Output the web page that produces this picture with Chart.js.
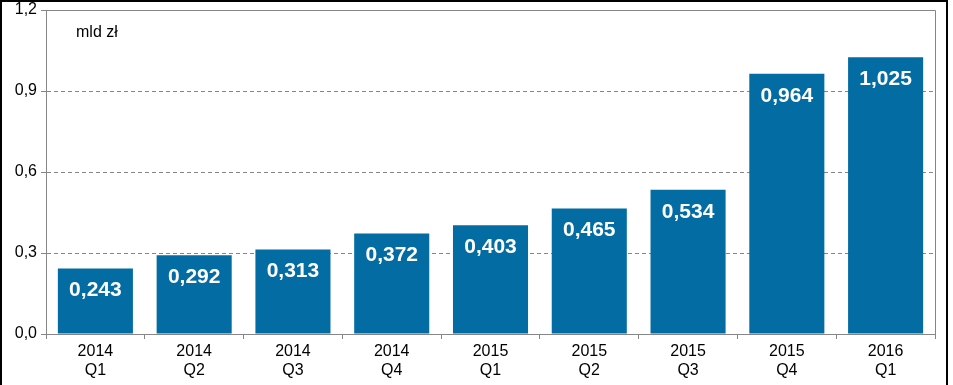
<!DOCTYPE html>
<html>
<head>
<meta charset="utf-8">
<script src="https://cdn.jsdelivr.net/npm/chart.js@4"></script>
<style>
  body { margin: 0; background: #fff; }
  #wrap { position: relative; width: 953px; height: 385px; }
</style>
</head>
<body>
<div id="wrap"><canvas id="chart" width="953" height="385"></canvas></div>
<script>
const years = ["2014", "2014", "2014", "2014", "2015", "2015", "2015", "2015", "2016"];
const quarters = ["Q1", "Q2", "Q3", "Q4", "Q1", "Q2", "Q3", "Q4", "Q1"];
const values = [0.243, 0.292, 0.313, 0.372, 0.403, 0.465, 0.534, 0.964, 1.025];
const unitLabel = "mld zł";

const barColor = "#036ca3";
const gridColor = "#868686";

function plFormat(v, digits) {
  return v.toFixed(digits).replace(".", ",");
}

// white value labels inside the bars + frame + plot border
const decorations = {
  id: "decorations",
  afterDatasetsDraw: function (chart) {
    const ctx = chart.ctx;
    const meta = chart.getDatasetMeta(0);
    ctx.save();
    ctx.fillStyle = "#ffffff";
    ctx.font = "bold 21px 'Liberation Sans', Arial, sans-serif";
    ctx.textAlign = "center";
    ctx.textBaseline = "middle";
    meta.data.forEach(function (bar, i) {
      ctx.fillText(plFormat(values[i], 3), bar.x, bar.y + 22);
    });
    ctx.restore();
  },
  afterDraw: function (chart) {
    const ctx = chart.ctx;
    const a = chart.chartArea;
    ctx.save();
    // plot area top and right border
    ctx.strokeStyle = gridColor;
    ctx.lineWidth = 1;
    ctx.beginPath();
    ctx.moveTo(a.left, Math.round(a.top) + 0.5);
    ctx.lineTo(Math.round(a.right) + 0.5, Math.round(a.top) + 0.5);
    ctx.lineTo(Math.round(a.right) + 0.5, a.bottom);
    ctx.stroke();
    // unit text
    ctx.fillStyle = "#000";
    ctx.font = "16px 'Liberation Sans', Arial, sans-serif";
    ctx.textAlign = "left";
    ctx.textBaseline = "alphabetic";
    ctx.fillText(unitLabel, 76, 37);
    // outer frame
    ctx.strokeStyle = "#000";
    ctx.lineWidth = 2;
    ctx.beginPath();
    ctx.moveTo(1, 400);
    ctx.lineTo(1, 1);
    ctx.lineTo(947, 1);
    ctx.lineTo(947, 400);
    ctx.stroke();
    ctx.restore();
  }
};

const ctx = document.getElementById("chart").getContext("2d");
new Chart(ctx, {
  type: "bar",
  data: {
    labels: years.map(function (y, i) { return [y, quarters[i]]; }),
    datasets: [{
      data: values,
      backgroundColor: barColor,
      borderWidth: 0,
      categoryPercentage: 1,
      barPercentage: 0.76
    }]
  },
  options: {
    responsive: false,
    animation: false,
    layout: { padding: { top: 10, right: 18, left: 0, bottom: 0 } },
    plugins: {
      legend: { display: false },
      tooltip: { enabled: false }
    },
    scales: {
      x: {
        offset: true,
        grid: {
          offset: true,
          drawOnChartArea: false,
          color: gridColor,
          tickLength: 5
        },
        border: { color: gridColor, width: 1 },
        ticks: {
          color: "#000",
          padding: 3,
          maxRotation: 0,
          font: { family: "'Liberation Sans', Arial, sans-serif", size: 16, lineHeight: 1.2 }
        },
        afterFit: function (scale) { scale.height = 51; }
      },
      y: {
        min: 0,
        max: 1.2,
        ticks: {
          stepSize: 0.3,
          color: "#000",
          padding: 4,
          font: { family: "'Liberation Sans', Arial, sans-serif", size: 16, lineHeight: 1 },
          callback: function (v) { return plFormat(v, 1); }
        },
        grid: {
          color: gridColor,
          tickLength: 5
        },
        border: { color: gridColor, width: 1, dash: [4, 3] },
        afterFit: function (scale) {
          scale.width = 46;
          scale.paddingTop = 0;
          scale.paddingBottom = 0;
        }
      }
    }
  },
  plugins: [decorations]
});
</script>
</body>
</html>
